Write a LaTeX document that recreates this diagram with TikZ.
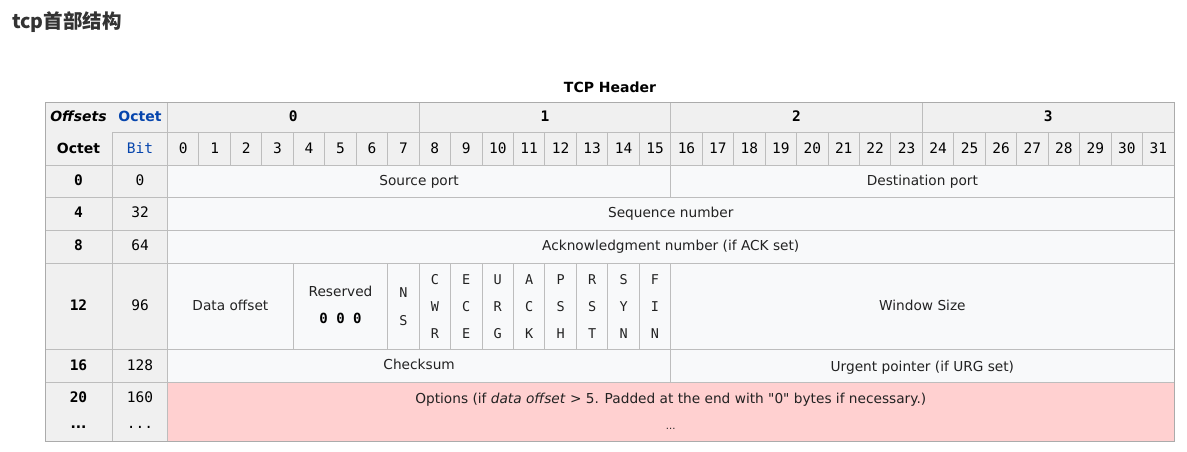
\documentclass[tikz,border=0pt]{standalone}
\usepackage{fontspec}
\setmainfont{DejaVu Sans}
\newfontfamily\dvm{DejaVu Sans Mono}
\newfontfamily\dvq{DejaVu Sans}[Ligatures=TeXOff]
\newfontfamily\cjk{Noto Sans CJK SC}
\definecolor{hdr}{HTML}{F0F0F0}
\definecolor{cellbg}{HTML}{F8F9FA}
\definecolor{optbg}{HTML}{FFD0D0}
\definecolor{grid}{HTML}{BDBDBD}
\definecolor{outer}{HTML}{ABABAB}
\definecolor{txtc}{HTML}{222222}
\definecolor{linkc}{HTML}{0645AD}
\begin{document}
\begin{tikzpicture}[x=1pt,y=-1pt,
  lbl/.style={anchor=base,inner sep=0pt,text=txtc,font=\fontsize{13.7}{16}\selectfont},
  hdb/.style={anchor=base,inner sep=0pt,text=black,font=\bfseries\fontsize{14}{16}\selectfont},
  numb/.style={anchor=base,inner sep=0pt,text=black,font=\dvm\bfseries\fontsize{14.5}{16}\selectfont},
  numr/.style={anchor=base,inner sep=0pt,text=black,font=\dvm\fontsize{14.5}{16}\selectfont},
  flag/.style={anchor=base,inner sep=0pt,text=txtc,font=\dvm\fontsize{13.5}{16}\selectfont},
  gridline/.style={draw=grid,line width=1pt},
  outline/.style={draw=outer,line width=1pt}]
\useasboundingbox (0,0) rectangle (1187,451);
\def\w{31.453}
% title
\node[anchor=base west,inner sep=0pt,text=black!80,font=\cjk\bfseries\fontsize{19.5}{22}\selectfont] (title) at (12,28) {tcp首部结构};
\node[hdb] (caption) at (610,92) {TCP Header};
% fills
\fill[hdr] (45,102) rectangle (1174,165);
\fill[hdr] (45,165) rectangle (167.5,441);
\fill[cellbg] (167.5,165) rectangle (1174,382);
\fill[optbg] (167.5,382) rectangle (1174,441);
% horizontal grid lines
\draw[gridline] (112.5,132) -- (1174,132);
\foreach \yy in {165,197.7,230.3,263,349.5,382} \draw[gridline] (45,\yy) -- (1174,\yy);
% vertical grid lines
\draw[gridline] (112.5,132) -- (112.5,441);
\draw[gridline] (167.5,102) -- (167.5,441);
\foreach \k in {8,16,24} \draw[gridline] ({167.5+\w*\k},102) -- ({167.5+\w*\k},165);
\foreach \k in {1,...,31} \draw[gridline] ({167.5+\w*\k},132) -- ({167.5+\w*\k},165);
\draw[gridline] ({167.5+\w*16},165) -- ({167.5+\w*16},197.7);
\foreach \k in {4,7,8,9,10,11,12,13,14,15,16} \draw[gridline] ({167.5+\w*\k},263) -- ({167.5+\w*\k},349.5);
\draw[gridline] ({167.5+\w*16},349.5) -- ({167.5+\w*16},382);
\draw[outline] (45,102) rectangle (1174,441);
% header texts
\node[hdb,font=\bfseries\itshape\fontsize{14}{16}\selectfont] (offsets) at (78.5,121) {Offsets};
\node[hdb,text=linkc] (octeth) at (140,121) {Octet};
\node[hdb] (octetc) at (78.5,153) {Octet};
\node[numr,text=linkc] (bith) at (140,153) {Bit};
\foreach \o in {0,1,2,3} \node[numb] (o\o) at ({167.5+\w*(8*\o+4)},121) {\o};
\foreach \i in {0,...,31} \node[numr] (b\i) at ({167.5+\w*(\i+0.5)},153) {\i};
% left columns
\foreach \a/\b/\yy in {0/0/185, 4/32/217, 8/64/250, 12/96/310, 16/128/370, 20/160/402} {
  \node[numb] (oc\a) at (78.5,\yy) {\a};
  \node[numr] (bt\b) at (140,\yy) {\b};
}
\node[hdb] (odots) at (78.5,428) {...};
\node[numr] (bdots) at (140,428) {...};
% fields
\node[lbl] (srcport) at ({167.5+\w*8},185) {Source port};
\node[lbl] (dstport) at ({167.5+\w*24},185) {Destination port};
\node[lbl] (seq) at ({167.5+\w*16},217) {Sequence number};
\node[lbl] (ack) at ({167.5+\w*16},250) {Acknowledgment number (if ACK set)};
\node[lbl] (doff) at ({167.5+\w*2},310) {Data offset};
\node[lbl] (resv) at ({167.5+\w*5.5},296) {Reserved};
\node[numb,font=\dvm\bfseries\fontsize{14}{16}\selectfont] (resz) at ({167.5+\w*5.5},323) {0 0 0};
\node[flag] (nsa) at ({167.5+\w*7.5},297) {N};
\node[flag] (nsb) at ({167.5+\w*7.5},325) {S};
\foreach \i/\a/\b/\c in {8/C/W/R, 9/E/C/E, 10/U/R/G, 11/A/C/K, 12/P/S/H, 13/R/S/T, 14/S/Y/N, 15/F/I/N} {
  \node[flag] (fa\i) at ({167.5+\w*(\i+0.5)},284) {\a};
  \node[flag] (fb\i) at ({167.5+\w*(\i+0.5)},311) {\b};
  \node[flag] (fc\i) at ({167.5+\w*(\i+0.5)},338) {\c};
}
\node[lbl] (win) at ({167.5+\w*24},310) {Window Size};
\node[lbl] (chk) at ({167.5+\w*8},369) {Checksum};
\node[lbl] (urg) at ({167.5+\w*24},371) {Urgent pointer (if URG set)};
\node[lbl] (opt) at ({167.5+\w*16},403) {Options (if \textit{data offset} > 5. Padded at the end with {\dvq"0"} bytes if necessary.)};
\node[lbl,font=\fontsize{10}{12}\selectfont] (optdots) at ({167.5+\w*16},429) {...};
\end{tikzpicture}
\end{document}
